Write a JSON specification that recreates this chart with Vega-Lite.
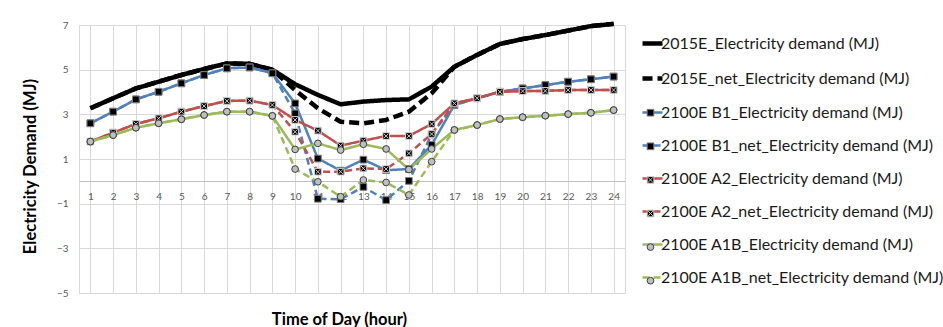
{
  "$schema": "https://vega.github.io/schema/vega-lite/v6.json",
  "width": 546,
  "height": 268,
  "autosize": {"type": "none"},
  "padding": {"left": 79, "top": 25, "right": 318, "bottom": 34},
  "background": "white",
  "config": {"font": "Lato", "view": {"stroke": "#d9d9d9", "strokeWidth": 1}},
  "data": {"values": [
    {"hour": 1, "2015E_Electricity demand (MJ)": 3.27, "2015E_net_Electricity demand (MJ)": 3.27, "2100E B1_Electricity demand (MJ)": 2.60, "2100E B1_net_Electricity demand (MJ)": 2.60, "2100E A2_Electricity demand (MJ)": 1.78, "2100E A2_net_Electricity demand (MJ)": 1.78, "2100E A1B_Electricity demand (MJ)": 1.78, "2100E A1B_net_Electricity demand (MJ)": 1.78},
    {"hour": 2, "2015E_Electricity demand (MJ)": 3.72, "2015E_net_Electricity demand (MJ)": 3.72, "2100E B1_Electricity demand (MJ)": 3.12, "2100E B1_net_Electricity demand (MJ)": 3.12, "2100E A2_Electricity demand (MJ)": 2.18, "2100E A2_net_Electricity demand (MJ)": 2.18, "2100E A1B_Electricity demand (MJ)": 2.07, "2100E A1B_net_Electricity demand (MJ)": 2.07},
    {"hour": 3, "2015E_Electricity demand (MJ)": 4.16, "2015E_net_Electricity demand (MJ)": 4.16, "2100E B1_Electricity demand (MJ)": 3.67, "2100E B1_net_Electricity demand (MJ)": 3.67, "2100E A2_Electricity demand (MJ)": 2.57, "2100E A2_net_Electricity demand (MJ)": 2.57, "2100E A1B_Electricity demand (MJ)": 2.40, "2100E A1B_net_Electricity demand (MJ)": 2.40},
    {"hour": 4, "2015E_Electricity demand (MJ)": 4.46, "2015E_net_Electricity demand (MJ)": 4.46, "2100E B1_Electricity demand (MJ)": 4.01, "2100E B1_net_Electricity demand (MJ)": 4.01, "2100E A2_Electricity demand (MJ)": 2.82, "2100E A2_net_Electricity demand (MJ)": 2.82, "2100E A1B_Electricity demand (MJ)": 2.60, "2100E A1B_net_Electricity demand (MJ)": 2.60},
    {"hour": 5, "2015E_Electricity demand (MJ)": 4.76, "2015E_net_Electricity demand (MJ)": 4.76, "2100E B1_Electricity demand (MJ)": 4.39, "2100E B1_net_Electricity demand (MJ)": 4.39, "2100E A2_Electricity demand (MJ)": 3.12, "2100E A2_net_Electricity demand (MJ)": 3.12, "2100E A1B_Electricity demand (MJ)": 2.78, "2100E A1B_net_Electricity demand (MJ)": 2.78},
    {"hour": 6, "2015E_Electricity demand (MJ)": 5.03, "2015E_net_Electricity demand (MJ)": 5.03, "2100E B1_Electricity demand (MJ)": 4.76, "2100E B1_net_Electricity demand (MJ)": 4.76, "2100E A2_Electricity demand (MJ)": 3.37, "2100E A2_net_Electricity demand (MJ)": 3.37, "2100E A1B_Electricity demand (MJ)": 2.97, "2100E A1B_net_Electricity demand (MJ)": 2.97},
    {"hour": 7, "2015E_Electricity demand (MJ)": 5.28, "2015E_net_Electricity demand (MJ)": 5.28, "2100E B1_Electricity demand (MJ)": 5.06, "2100E B1_net_Electricity demand (MJ)": 5.06, "2100E A2_Electricity demand (MJ)": 3.60, "2100E A2_net_Electricity demand (MJ)": 3.60, "2100E A1B_Electricity demand (MJ)": 3.12, "2100E A1B_net_Electricity demand (MJ)": 3.12},
    {"hour": 8, "2015E_Electricity demand (MJ)": 5.26, "2015E_net_Electricity demand (MJ)": 5.26, "2100E B1_Electricity demand (MJ)": 5.10, "2100E B1_net_Electricity demand (MJ)": 5.10, "2100E A2_Electricity demand (MJ)": 3.61, "2100E A2_net_Electricity demand (MJ)": 3.61, "2100E A1B_Electricity demand (MJ)": 3.12, "2100E A1B_net_Electricity demand (MJ)": 3.12},
    {"hour": 9, "2015E_Electricity demand (MJ)": 5.00, "2015E_net_Electricity demand (MJ)": 5.00, "2100E B1_Electricity demand (MJ)": 4.84, "2100E B1_net_Electricity demand (MJ)": 4.84, "2100E A2_Electricity demand (MJ)": 3.42, "2100E A2_net_Electricity demand (MJ)": 3.42, "2100E A1B_Electricity demand (MJ)": 2.93, "2100E A1B_net_Electricity demand (MJ)": 2.93},
    {"hour": 10, "2015E_Electricity demand (MJ)": 4.35, "2015E_net_Electricity demand (MJ)": 4.09, "2100E B1_Electricity demand (MJ)": 3.49, "2100E B1_net_Electricity demand (MJ)": 3.04, "2100E A2_Electricity demand (MJ)": 2.75, "2100E A2_net_Electricity demand (MJ)": 2.22, "2100E A1B_Electricity demand (MJ)": 1.43, "2100E A1B_net_Electricity demand (MJ)": 0.55},
    {"hour": 11, "2015E_Electricity demand (MJ)": 3.87, "2015E_net_Electricity demand (MJ)": 3.27, "2100E B1_Electricity demand (MJ)": 1.02, "2100E B1_net_Electricity demand (MJ)": -0.78, "2100E A2_Electricity demand (MJ)": 2.27, "2100E A2_net_Electricity demand (MJ)": 0.43, "2100E A1B_Electricity demand (MJ)": 1.70, "2100E A1B_net_Electricity demand (MJ)": -0.02},
    {"hour": 12, "2015E_Electricity demand (MJ)": 3.45, "2015E_net_Electricity demand (MJ)": 2.67, "2100E B1_Electricity demand (MJ)": 0.48, "2100E B1_net_Electricity demand (MJ)": -0.80, "2100E A2_Electricity demand (MJ)": 1.60, "2100E A2_net_Electricity demand (MJ)": 0.43, "2100E A1B_Electricity demand (MJ)": 1.40, "2100E A1B_net_Electricity demand (MJ)": -0.69},
    {"hour": 13, "2015E_Electricity demand (MJ)": 3.57, "2015E_net_Electricity demand (MJ)": 2.60, "2100E B1_Electricity demand (MJ)": 0.97, "2100E B1_net_Electricity demand (MJ)": -0.25, "2100E A2_Electricity demand (MJ)": 1.82, "2100E A2_net_Electricity demand (MJ)": 0.58, "2100E A1B_Electricity demand (MJ)": 1.66, "2100E A1B_net_Electricity demand (MJ)": 0.06},
    {"hour": 14, "2015E_Electricity demand (MJ)": 3.64, "2015E_net_Electricity demand (MJ)": 2.75, "2100E B1_Electricity demand (MJ)": 0.50, "2100E B1_net_Electricity demand (MJ)": -0.84, "2100E A2_Electricity demand (MJ)": 2.03, "2100E A2_net_Electricity demand (MJ)": 0.55, "2100E A1B_Electricity demand (MJ)": 1.45, "2100E A1B_net_Electricity demand (MJ)": -0.05},
    {"hour": 15, "2015E_Electricity demand (MJ)": 3.67, "2015E_net_Electricity demand (MJ)": 3.12, "2100E B1_Electricity demand (MJ)": 0.55, "2100E B1_net_Electricity demand (MJ)": 0.02, "2100E A2_Electricity demand (MJ)": 2.03, "2100E A2_net_Electricity demand (MJ)": 1.25, "2100E A1B_Electricity demand (MJ)": 0.53, "2100E A1B_net_Electricity demand (MJ)": -0.61},
    {"hour": 16, "2015E_Electricity demand (MJ)": 4.24, "2015E_net_Electricity demand (MJ)": 3.94, "2100E B1_Electricity demand (MJ)": 1.63, "2100E B1_net_Electricity demand (MJ)": 2.10, "2100E A2_Electricity demand (MJ)": 2.57, "2100E A2_net_Electricity demand (MJ)": 2.12, "2100E A1B_Electricity demand (MJ)": 1.45, "2100E A1B_net_Electricity demand (MJ)": 0.88},
    {"hour": 17, "2015E_Electricity demand (MJ)": 5.13, "2015E_net_Electricity demand (MJ)": 5.13, "2100E B1_Electricity demand (MJ)": 3.42, "2100E B1_net_Electricity demand (MJ)": 3.42, "2100E A2_Electricity demand (MJ)": 3.49, "2100E A2_net_Electricity demand (MJ)": 3.49, "2100E A1B_Electricity demand (MJ)": 2.30, "2100E A1B_net_Electricity demand (MJ)": 2.30},
    {"hour": 18, "2015E_Electricity demand (MJ)": 5.66, "2015E_net_Electricity demand (MJ)": 5.66, "2100E B1_Electricity demand (MJ)": 3.72, "2100E B1_net_Electricity demand (MJ)": 3.72, "2100E A2_Electricity demand (MJ)": 3.72, "2100E A2_net_Electricity demand (MJ)": 3.72, "2100E A1B_Electricity demand (MJ)": 2.52, "2100E A1B_net_Electricity demand (MJ)": 2.52},
    {"hour": 19, "2015E_Electricity demand (MJ)": 6.15, "2015E_net_Electricity demand (MJ)": 6.15, "2100E B1_Electricity demand (MJ)": 4.01, "2100E B1_net_Electricity demand (MJ)": 4.01, "2100E A2_Electricity demand (MJ)": 4.01, "2100E A2_net_Electricity demand (MJ)": 4.01, "2100E A1B_Electricity demand (MJ)": 2.79, "2100E A1B_net_Electricity demand (MJ)": 2.79},
    {"hour": 20, "2015E_Electricity demand (MJ)": 6.37, "2015E_net_Electricity demand (MJ)": 6.37, "2100E B1_Electricity demand (MJ)": 4.16, "2100E B1_net_Electricity demand (MJ)": 4.16, "2100E A2_Electricity demand (MJ)": 4.04, "2100E A2_net_Electricity demand (MJ)": 4.04, "2100E A1B_Electricity demand (MJ)": 2.87, "2100E A1B_net_Electricity demand (MJ)": 2.87},
    {"hour": 21, "2015E_Electricity demand (MJ)": 6.55, "2015E_net_Electricity demand (MJ)": 6.55, "2100E B1_Electricity demand (MJ)": 4.31, "2100E B1_net_Electricity demand (MJ)": 4.31, "2100E A2_Electricity demand (MJ)": 4.05, "2100E A2_net_Electricity demand (MJ)": 4.05, "2100E A1B_Electricity demand (MJ)": 2.94, "2100E A1B_net_Electricity demand (MJ)": 2.94},
    {"hour": 22, "2015E_Electricity demand (MJ)": 6.75, "2015E_net_Electricity demand (MJ)": 6.75, "2100E B1_Electricity demand (MJ)": 4.46, "2100E B1_net_Electricity demand (MJ)": 4.46, "2100E A2_Electricity demand (MJ)": 4.09, "2100E A2_net_Electricity demand (MJ)": 4.09, "2100E A1B_Electricity demand (MJ)": 3.01, "2100E A1B_net_Electricity demand (MJ)": 3.01},
    {"hour": 23, "2015E_Electricity demand (MJ)": 6.95, "2015E_net_Electricity demand (MJ)": 6.95, "2100E B1_Electricity demand (MJ)": 4.57, "2100E B1_net_Electricity demand (MJ)": 4.57, "2100E A2_Electricity demand (MJ)": 4.09, "2100E A2_net_Electricity demand (MJ)": 4.09, "2100E A1B_Electricity demand (MJ)": 3.07, "2100E A1B_net_Electricity demand (MJ)": 3.07},
    {"hour": 24, "2015E_Electricity demand (MJ)": 7.05, "2015E_net_Electricity demand (MJ)": 7.05, "2100E B1_Electricity demand (MJ)": 4.69, "2100E B1_net_Electricity demand (MJ)": 4.69, "2100E A2_Electricity demand (MJ)": 4.09, "2100E A2_net_Electricity demand (MJ)": 4.09, "2100E A1B_Electricity demand (MJ)": 3.19, "2100E A1B_net_Electricity demand (MJ)": 3.19}
  ]},
  "transform": [
    {"fold": ["2015E_Electricity demand (MJ)", "2015E_net_Electricity demand (MJ)", "2100E B1_Electricity demand (MJ)", "2100E B1_net_Electricity demand (MJ)", "2100E A2_Electricity demand (MJ)", "2100E A2_net_Electricity demand (MJ)", "2100E A1B_Electricity demand (MJ)", "2100E A1B_net_Electricity demand (MJ)"], "as": ["series", "value"]},
    {"calculate": "datum.series + ' '", "as": "marker"}
  ],
  "layer": [
    {
      "mark": {"type": "line", "strokeJoin": "round"},
      "encoding": {
        "x": {"field": "hour", "type": "ordinal", "scale": {"paddingInner": 0, "paddingOuter": 0},
          "axis": {"orient": "bottom", "offset": -112, "labelAngle": 0, "labelFont": "Lato", "labelFontSize": 10, "labelColor": "#595959", "labelPadding": 10, "ticks": false, "tickSize": 0, "domainColor": "#bfbfbf", "domainWidth": 1, "grid": true, "gridColor": "#d9d9d9", "bandPosition": 0, "title": "Time of Day (hour)", "titleFont": "Lato", "titleFontSize": 16.5, "titleFontWeight": "bold", "titleColor": "#000000", "titleX": 260, "titleY": 138, "titleBaseline": "middle", "titleAlign": "center"}},
        "y": {"field": "value", "type": "quantitative", "scale": {"domain": [-5, 7], "nice": false, "zero": false},
          "axis": {"values": [-5, -3, -1, 1, 3, 5, 7], "domain": false, "ticks": false, "labelFont": "Lato", "labelFontSize": 10, "labelColor": "#595959", "labelPadding": 11, "grid": true, "gridColor": "#d9d9d9", "title": "Electricity Demand (MJ)", "titleFont": "Lato", "titleFontSize": 16.5, "titleFontWeight": "bold", "titleColor": "#000000", "titleX": -49, "titleY": 141, "titleAngle": -90, "titleBaseline": "middle", "titleAlign": "center"}},
        "color": {"field": "series", "type": "nominal",
          "scale": {"domain": ["2015E_Electricity demand (MJ)", "2015E_net_Electricity demand (MJ)", "2100E B1_Electricity demand (MJ)", "2100E B1_net_Electricity demand (MJ)", "2100E A2_Electricity demand (MJ)", "2100E A2_net_Electricity demand (MJ)", "2100E A1B_Electricity demand (MJ)", "2100E A1B_net_Electricity demand (MJ)"], "range": ["#000000", "#000000", "#4f81bd", "#4f81bd", "#c0504d", "#c0504d", "#9bbb59", "#9bbb59"]},
          "legend": {"title": null, "orient": "none", "legendX": 561, "legendY": 6, "symbolType": "stroke", "symbolSize": 400, "labelFont": "Lato", "labelFontSize": 16, "labelColor": "#1a1a1a", "labelOffset": -4, "rowPadding": 13, "padding": 0, "labelLimit": 400}},
        "strokeDash": {"field": "series", "type": "nominal",
          "scale": {"domain": ["2015E_Electricity demand (MJ)", "2015E_net_Electricity demand (MJ)", "2100E B1_Electricity demand (MJ)", "2100E B1_net_Electricity demand (MJ)", "2100E A2_Electricity demand (MJ)", "2100E A2_net_Electricity demand (MJ)", "2100E A1B_Electricity demand (MJ)", "2100E A1B_net_Electricity demand (MJ)"], "range": [[1, 0], [10, 5], [1, 0], [7, 4], [1, 0], [7, 4], [1, 0], [7, 4]]},
          "legend": {"title": null, "orient": "none", "legendX": 561, "legendY": 6, "symbolType": "stroke", "symbolSize": 400, "labelFont": "Lato", "labelFontSize": 16, "labelColor": "#1a1a1a", "labelOffset": -4, "rowPadding": 13, "padding": 0, "labelLimit": 400}},
        "strokeWidth": {"field": "series", "type": "nominal",
          "scale": {"type": "ordinal", "domain": ["2015E_Electricity demand (MJ)", "2015E_net_Electricity demand (MJ)", "2100E B1_Electricity demand (MJ)", "2100E B1_net_Electricity demand (MJ)", "2100E A2_Electricity demand (MJ)", "2100E A2_net_Electricity demand (MJ)", "2100E A1B_Electricity demand (MJ)", "2100E A1B_net_Electricity demand (MJ)"], "range": [4.5, 4.5, 2.5, 2.5, 2.5, 2.5, 2.5, 2.5]},
          "legend": {"title": null, "orient": "none", "legendX": 561, "legendY": 6, "symbolType": "stroke", "symbolSize": 400, "labelFont": "Lato", "labelFontSize": 16, "labelColor": "#1a1a1a", "labelOffset": -4, "rowPadding": 13, "padding": 0, "labelLimit": 400}}
      }
    },
    {
      "transform": [{"filter": "indexof(datum.series, '2015E') < 0"}],
      "mark": {"type": "point", "filled": true, "size": 45, "strokeWidth": 1, "opacity": 1},
      "encoding": {
        "x": {"field": "hour", "type": "ordinal"},
        "y": {"field": "value", "type": "quantitative"},
        "shape": {"field": "marker", "type": "nominal",
          "scale": {"domain": ["2015E_Electricity demand (MJ) ", "2015E_net_Electricity demand (MJ) ", "2100E B1_Electricity demand (MJ) ", "2100E B1_net_Electricity demand (MJ) ", "2100E A2_Electricity demand (MJ) ", "2100E A2_net_Electricity demand (MJ) ", "2100E A1B_Electricity demand (MJ) ", "2100E A1B_net_Electricity demand (MJ) "],
            "range": ["M0,0", "M0,0", "square", "square", "M-1,-1H1V1H-1Z M-0.7,-0.7L0.7,0.7M0.7,-0.7L-0.7,0.7", "M-1,-1H1V1H-1Z M-0.7,-0.7L0.7,0.7M0.7,-0.7L-0.7,0.7", "circle", "circle"]},
          "legend": {"title": null, "orient": "none", "legendX": 567.5, "legendY": 26.5, "symbolSize": 45, "symbolOpacity": 1, "symbolStrokeWidth": 1, "labelExpr": "''", "labelFontSize": 1, "labelOffset": 0, "rowPadding": 21.6, "padding": 0}},
        "fill": {"field": "marker", "type": "nominal",
          "scale": {"domain": ["2015E_Electricity demand (MJ) ", "2015E_net_Electricity demand (MJ) ", "2100E B1_Electricity demand (MJ) ", "2100E B1_net_Electricity demand (MJ) ", "2100E A2_Electricity demand (MJ) ", "2100E A2_net_Electricity demand (MJ) ", "2100E A1B_Electricity demand (MJ) ", "2100E A1B_net_Electricity demand (MJ) "],
            "range": ["transparent", "transparent", "#000000", "#000000", "#000000", "#000000", "#bfbfbf", "#bfbfbf"]},
          "legend": {"title": null, "orient": "none", "legendX": 567.5, "legendY": 26.5, "symbolSize": 45, "symbolOpacity": 1, "symbolStrokeWidth": 1, "labelExpr": "''", "labelFontSize": 1, "labelOffset": 0, "rowPadding": 21.6, "padding": 0}},
        "stroke": {"field": "marker", "type": "nominal",
          "scale": {"domain": ["2015E_Electricity demand (MJ) ", "2015E_net_Electricity demand (MJ) ", "2100E B1_Electricity demand (MJ) ", "2100E B1_net_Electricity demand (MJ) ", "2100E A2_Electricity demand (MJ) ", "2100E A2_net_Electricity demand (MJ) ", "2100E A1B_Electricity demand (MJ) ", "2100E A1B_net_Electricity demand (MJ) "],
            "range": ["transparent", "transparent", "#7f7f7f", "#7f7f7f", "#d0d0d0", "#d0d0d0", "#404040", "#404040"]},
          "legend": {"title": null, "orient": "none", "legendX": 567.5, "legendY": 26.5, "symbolSize": 45, "symbolOpacity": 1, "symbolStrokeWidth": 1, "labelExpr": "''", "labelFontSize": 1, "labelOffset": 0, "rowPadding": 21.6, "padding": 0}}
      }
    }
  ]
}
